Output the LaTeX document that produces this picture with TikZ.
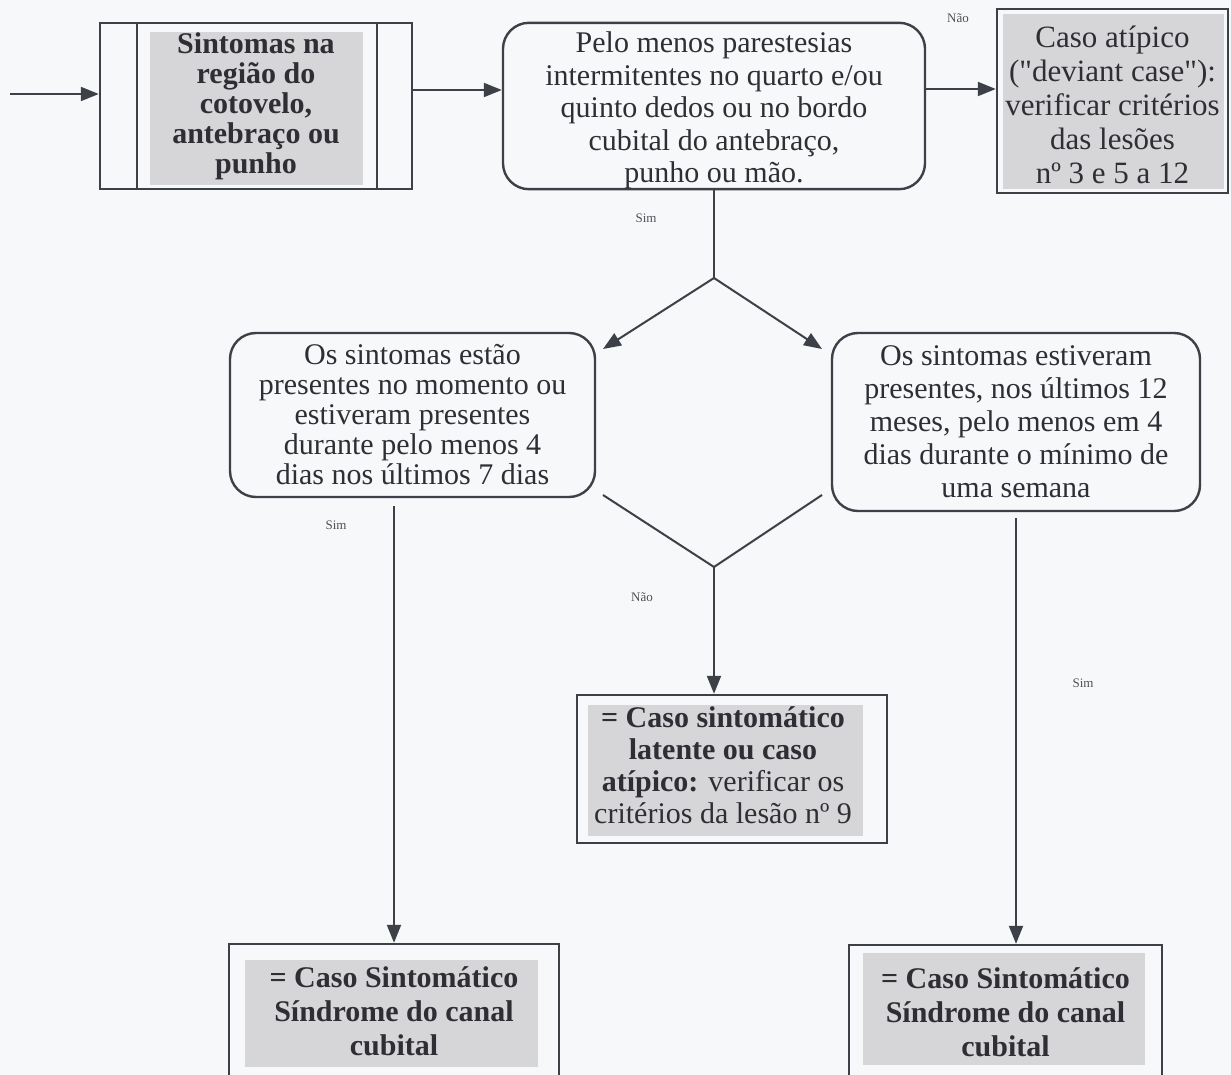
\documentclass[tikz,border=0pt]{standalone}
\usepackage{fontspec}
\setmainfont{Liberation Serif}[Ligatures=TeXOff]
\usetikzlibrary{arrows.meta}

\definecolor{papel}{RGB}{247,248,250}
\definecolor{traco}{RGB}{62,64,72}
\definecolor{tinta}{RGB}{46,46,52}
\definecolor{sombra}{RGB}{214,214,217}
\definecolor{rotulocor}{RGB}{80,80,86}

\begin{document}
\begin{tikzpicture}[x=1pt,y=-1pt,
  caixa/.style={draw=traco, line width=2.4pt, inner sep=0pt, align=center,
                text=tinta, font=\fontsize{30}{32}\selectfont},
  redonda/.style={caixa, rounded corners=26pt},
  seta/.style={draw=traco, line width=2pt, -{Triangle[length=18pt,width=14pt]}},
  linha/.style={draw=traco, line width=2pt},
  rotulo/.style={text=rotulocor, font=\fontsize{13}{13}\selectfont, inner sep=0pt},
]
% page and frame
\useasboundingbox (0,0) rectangle (1231,1075);
\clip (0,0) rectangle (1231,1075);
\fill[papel] (0,0) rectangle (1231,1075);

% grey shading behind the highlighted texts
\fill[sombra] (150,32) rectangle (363,185);
\fill[sombra] (1003,14) rectangle (1224,189);
\fill[sombra] (588,705) rectangle (863,836);
\fill[sombra] (245,960) rectangle (538,1067);
\fill[sombra] (863,953) rectangle (1145,1065);

% boxes
\node[caixa, minimum width=312pt, minimum height=166pt,
      font=\bfseries\fontsize{30}{30}\selectfont] (b1) at (256,106)
  {Sintomas na\\região do\\cotovelo,\\antebraço ou\\punho};
\draw[traco, line width=2.4pt] ([xshift=38pt]b1.north west) -- ([xshift=38pt]b1.south west);
\draw[traco, line width=2.4pt] ([xshift=-36pt]b1.north east) -- ([xshift=-36pt]b1.south east);

\node[redonda, minimum width=422pt, minimum height=166pt,
      font=\fontsize{30}{32.5}\selectfont] (b2) at (714,106)
  {\rule{0pt}{30pt}Pelo menos parestesias\\intermitentes no quarto e/ou\\quinto dedos ou no bordo\\cubital do antebraço,\\punho ou mão.};

\node[caixa, minimum width=231pt, minimum height=184pt,
      font=\fontsize{31}{34}\selectfont] (b3) at (1112.5,101)
  {\rule{0pt}{30pt}Caso atípico\\("deviant case"):\\verificar critérios\\das lesões\\nº 3 e 5 a 12};

\node[redonda, minimum width=365pt, minimum height=164pt,
      font=\fontsize{30}{30}\selectfont] (b4) at (412.5,415)
  {Os sintomas estão\\presentes no momento ou\\estiveram presentes\\durante pelo menos 4\\dias nos últimos 7 dias};

\node[redonda, minimum width=368pt, minimum height=178pt,
      font=\fontsize{30}{33}\selectfont] (b5) at (1016,422)
  {Os sintomas estiveram\\presentes, nos últimos 12\\meses, pelo menos em 4\\dias durante o mínimo de\\uma semana};

\node[caixa, minimum width=310pt, minimum height=148pt] (b6) at (732,769)
  {\begin{tabular}{@{}c@{}}\bfseries = Caso sintomático\\\bfseries latente ou caso\\\textbf{atípico:} verificar os\\critérios da lesão nº 9\end{tabular}\hspace*{18pt}};

\node[caixa, minimum width=330pt, minimum height=134pt,
      font=\bfseries\fontsize{30}{34}\selectfont] (b7) at (394,1011)
  {= Caso Sintomático\\Síndrome do canal\\cubital};

\node[caixa, minimum width=313pt, minimum height=134pt,
      font=\bfseries\fontsize{30}{34}\selectfont] (b8) at (1005.5,1012)
  {= Caso Sintomático\\Síndrome do canal\\cubital};

% connectors
\coordinate (entrada) at (10,94);
\draw[seta] (entrada) -- (entrada -| b1.west);
\draw[seta] (b1.east |- 0,90) -- (b2.west |- 0,90);
\draw[seta] (b2.east |- 0,89) -- (b3.west |- 0,89);

\coordinate (s1) at (714,278);
\coordinate (t4) at (603,349);
\coordinate (t5) at (822,349);
\draw[linha] (b2.south) -- (s1);
\draw[seta] (s1) -- (t4);
\draw[seta] (s1) -- (t5);

\coordinate (u4) at (603,495);
\coordinate (u5) at (822,495);
\coordinate (s2) at (714,567);
\draw[linha] (u4) -- (s2) -- (u5);
\draw[seta] (s2) -- (s2 |- b6.north);

\draw[seta] ([yshift=-8pt]b4.south -| b7.north) -- (b7.north);
\draw[seta] ([yshift=-6pt]b5.south) -- (b5.south |- b8.north);

% branch labels
\node[rotulo] (n1) at (958,18) {Não};
\node[rotulo] (l1) at (646,218) {Sim};
\node[rotulo] (l2) at (336,525) {Sim};
\node[rotulo] (n2) at (642,597) {Não};
\node[rotulo] (l3) at (1083,683) {Sim};
\end{tikzpicture}
\end{document}
